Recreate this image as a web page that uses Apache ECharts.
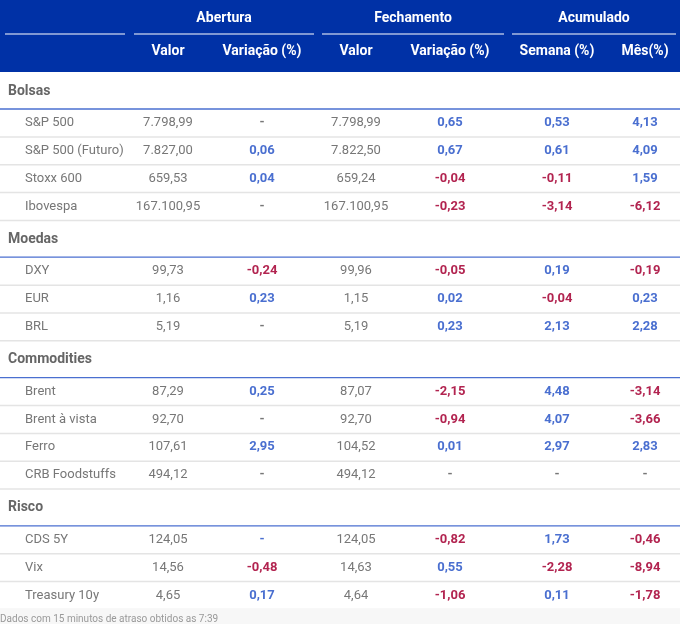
<!DOCTYPE html><html><head><meta charset="utf-8"><script src="https://cdn.jsdelivr.net/npm/echarts@6/dist/echarts.min.js"></script>
<style>body{margin:0}#c{width:680px;height:624px}</style></head><body><div id="c"></div><script>
const groupTitles=['Abertura','Fechamento','Acumulado'];
const colHeaders=['Valor','Variação (%)','Valor','Variação (%)','Semana (%)','Mês(%)'];
const sections=['Bolsas','Moedas','Commodities','Risco'];
const names=[['S&P 500','S&P 500 (Futuro)','Stoxx 600','Ibovespa'],['DXY','EUR','BRL'],['Brent','Brent à vista','Ferro','CRB Foodstuffs'],['CDS 5Y','Vix','Treasury 10y']];
const aberturaValor=[['7.798,99','7.827,00','659,53','167.100,95'],['99,73','1,16','5,19'],['87,29','92,70','107,61','494,12'],['124,05','14,56','4,65']];
const aberturaVar=[['-','0,06','0,04','-'],['-0,24','0,23','-'],['0,25','-','2,95','-'],['-','-0,48','0,17']];
const fechamentoValor=[['7.798,99','7.822,50','659,24','167.100,95'],['99,96','1,15','5,19'],['87,07','92,70','104,52','494,12'],['124,05','14,63','4,64']];
const fechamentoVar=[['0,65','0,67','-0,04','-0,23'],['-0,05','0,02','0,23'],['-2,15','-0,94','0,01','-'],['-0,82','0,55','-1,06']];
const semana=[['0,53','0,61','-0,11','-3,14'],['0,19','-0,04','2,13'],['4,48','4,07','2,97','-'],['1,73','-2,28','0,11']];
const mes=[['4,13','4,09','1,59','-6,12'],['-0,19','0,23','2,28'],['-3,14','-3,66','2,83','-'],['-0,46','-8,94','-1,78']];
const blueDash=[[false,false,false,false],[false,false,false],[false,false,false,false],[true,false,false]];
const BLUE='#4a6fd0',RED='#b22450',GRAY='#777',HEAD='#0031a6';
const F='Roboto, "Liberation Sans", sans-serif';
const colX=[168,262,356,450,557,645];
const g=[];
g.push({type:'rect',shape:{x:0,y:0,width:680,height:72},style:{fill:HEAD}});
[[5,125],[134,314],[322,504],[512,676]].forEach(s=>g.push({type:'line',shape:{x1:s[0],y1:34,x2:s[1],y2:34},style:{stroke:'#fff',lineWidth:1.2}}));
[224,413,594].forEach((x,i)=>g.push({type:'text',x:x,y:18,style:{text:groupTitles[i],fill:'#fff',font:'bold 14px '+F,align:'center',verticalAlign:'middle'}}));
colHeaders.forEach((t,i)=>g.push({type:'text',x:colX[i],y:51,style:{text:t,fill:'#fff',font:'bold 14px '+F,align:'center',verticalAlign:'middle'}}));
function numCol(v,isVar,bd){if(!isVar)return GRAY; if(v==='-')return bd?BLUE:GRAY; return v[0]==='-'?RED:BLUE;}
let y=91;
sections.forEach((s,si)=>{
 g.push({type:'text',x:8,y:y,style:{text:s,fill:'#666',font:'bold 14px '+F,verticalAlign:'middle'}});
 g.push({type:'line',shape:{x1:0,y1:y+18,x2:680,y2:y+18},style:{stroke:'#4a6fd0',lineWidth:1.3}});
 let ry=y+32;
 names[si].forEach((n,ri)=>{
  const vals=[aberturaValor[si][ri],aberturaVar[si][ri],fechamentoValor[si][ri],fechamentoVar[si][ri],semana[si][ri],mes[si][ri]];
  g.push({type:'text',x:25,y:ry,style:{text:n,fill:GRAY,font:'13px '+F,verticalAlign:'middle'}});
  vals.forEach((v,ci)=>{const isVar=ci%2===1||ci>=4;g.push({type:'text',x:colX[ci],y:ry,style:{text:v,fill:numCol(v,isVar,ci===1&&blueDash[si][ri]),font:(isVar?'bold ':'')+'13px '+F,align:'center',verticalAlign:'middle'}});});
  g.push({type:'line',shape:{x1:0,y1:ry+14,x2:680,y2:ry+14},style:{stroke:'#e4e4e4',lineWidth:1.5}});
  ry+=27.8;
 });
 y=ry+5;
});
g.push({type:'rect',shape:{x:0,y:609,width:680,height:15},style:{fill:'#f7f7f7'}});
g.push({type:'text',x:0,y:619,style:{text:'Dados com 15 minutos de atraso obtidos as 7:39',fill:'#999',font:'10px '+F,verticalAlign:'middle'}});
echarts.init(document.getElementById('c')).setOption({backgroundColor:'#fff',graphic:{elements:g}});
</script></body></html>
